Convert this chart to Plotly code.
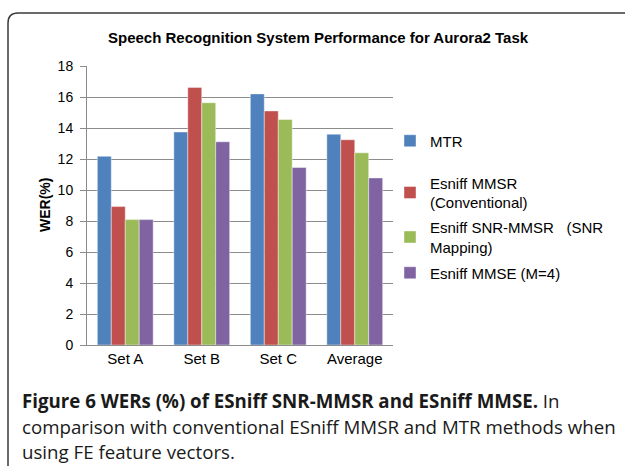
import plotly.graph_objects as go

categories = ["Set A", "Set B", "Set C", "Average"]
series_names = ["MTR", "Esniff MMSR<br>(Conventional)", "Esniff SNR-MMSR   (SNR<br>Mapping)", "Esniff MMSE (M=4)"]
mtr = [12.17, 13.74, 16.2, 13.6]
mmsr = [8.93, 16.62, 15.1, 13.24]
snr_mmsr = [8.09, 15.63, 14.55, 12.4]
mmse = [8.09, 13.11, 11.45, 10.78]
colors = ["#4F81BD", "#C0504D", "#9BBB59", "#8064A2"]
y_ticks = [0, 2, 4, 6, 8, 10, 12, 14, 16, 18]

W, H = 625, 466
L, R, T, B = 87, 232, 66, 121
PW, PH = W - L - R, H - T - B


def px2x(px):
    return (px - L) / PW


def py2y(py):
    return 1 - (py - T) / PH


legend_names = ["legend", "legend2", "legend3", "legend4"]
legend_centers = [141, 192.5, 237, 273]

fig = go.Figure()
for name, vals, c, lg in zip(series_names, [mtr, mmsr, snr_mmsr, mmse], colors, legend_names):
    fig.add_trace(go.Bar(x=categories, y=vals, name=name, legend=lg,
                         marker=dict(color=c, line=dict(width=0.6, color="rgba(255,255,255,0.7)"))))

layout_legends = {}
for lg, cy in zip(legend_names, legend_centers):
    layout_legends[lg] = dict(x=px2x(390), xanchor="left", y=py2y(cy), yanchor="middle",
                              font=dict(size=15, family="Liberation Sans, Arial", color="black"),
                              bgcolor="rgba(0,0,0,0)", borderwidth=0)

fig.update_layout(
    width=W, height=H,
    paper_bgcolor="white", plot_bgcolor="white",
    margin=dict(l=L, r=R, t=T, b=B, autoexpand=False),
    barmode="group", bargap=0.27, bargroupgap=0,
    font=dict(family="Liberation Sans, Arial", size=14, color="black"),
    yaxis=dict(range=[0, 18], tickvals=y_ticks, showgrid=True, gridcolor="#8c8c8c", gridwidth=1,
               showline=True, linecolor="#8c8c8c", ticks="outside", ticklen=6, tickcolor="#8c8c8c",
               ticklabelstandoff=4, zeroline=False, automargin=False, tickfont=dict(size=14)),
    xaxis=dict(showline=True, linecolor="#8c8c8c", ticks="", tickfont=dict(size=15), automargin=False),
    showlegend=True,
    **layout_legends,
)

# chart title
fig.add_annotation(xref="paper", yref="paper", x=px2x(318), y=py2y(37), xanchor="center", yanchor="middle",
                   text="<b>Speech Recognition System Performance for Aurora2 Task</b>",
                   showarrow=False, font=dict(size=15))
# y-axis title
fig.add_annotation(xref="paper", yref="paper", x=px2x(45), y=py2y(205), xanchor="center", yanchor="middle",
                   text="<b>WER(%)</b>", textangle=-90, showarrow=False, font=dict(size=14))

# rounded frame
x0, y0, r = 8, 13, 10
fig.add_shape(type="path", xref="paper", yref="paper",
              path=(f"M {px2x(x0)} {py2y(480)} L {px2x(x0)} {py2y(y0 + r)} "
                    f"Q {px2x(x0)} {py2y(y0)} {px2x(x0 + r)} {py2y(y0)} L {px2x(640)} {py2y(y0)}"),
              line=dict(color="#3a3a3a", width=1.5))

cap_font = dict(family="Open Sans", size=18.7, color="#1a1a1a")
fig.add_annotation(xref="paper", yref="paper", x=px2x(20), y=py2y(401), xanchor="left", yanchor="middle",
                   text="<b>Figure 6 WERs (%) of ESniff SNR-MMSR and ESniff MMSE.</b> In",
                   showarrow=False, font=cap_font)
fig.add_annotation(xref="paper", yref="paper", x=px2x(20), y=py2y(426), xanchor="left", yanchor="middle",
                   text="comparison with conventional ESniff MMSR and MTR methods when",
                   showarrow=False, font=cap_font)
fig.add_annotation(xref="paper", yref="paper", x=px2x(20), y=py2y(451), xanchor="left", yanchor="middle",
                   text="using FE feature vectors.",
                   showarrow=False, font=cap_font)

fig.write_html("out.html", config={"displayModeBar": False},
               post_script="document.body.style.margin='0';document.body.style.overflow='hidden';")
